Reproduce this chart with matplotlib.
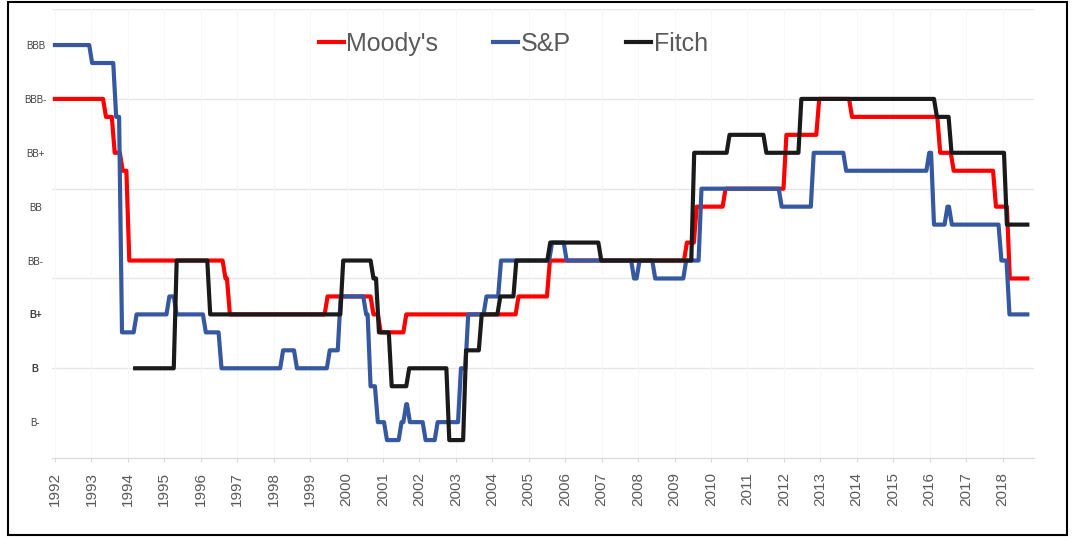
import matplotlib
matplotlib.use("Agg")
import matplotlib.pyplot as plt
from matplotlib.patches import Rectangle

plt.rcParams['font.family'] = ['Liberation Sans', 'DejaVu Sans']

# rating notch scale: 2 = B-, 5 = B, 8 = B+, ... 23 = BBB (one notch = outlook step)
rating_levels = [2, 5, 8, 11, 14, 17, 20, 23]
rating_labels = ['B-', 'B', 'B+', 'BB-', 'BB', 'BB+', 'BBB-', 'BBB']
years = list(range(1992, 2019))
end_date = 2018.68

# change dates and notch levels
moodys_dates = [1992.0, 1993.36, 1993.6, 1993.82, 1994.0, 1996.64, 1996.76, 1999.44,
                2000.7, 2000.9, 2001.6, 2004.68, 2005.54, 2009.3, 2009.57, 2010.36,
                2012.03, 2012.93, 2013.83, 2016.25, 2016.62, 2017.78, 2018.16]
moodys_vals = [20, 19, 17, 16, 11, 10, 8, 9,
               8, 7, 8, 9, 11, 12, 14, 15,
               18, 20, 19, 17, 16, 14, 10]

sp_dates = [1992.0, 1992.98, 1993.64, 1993.8, 1994.2, 1995.1, 1995.3, 1996.1, 1996.53,
            1998.22, 1998.6, 1999.5, 1999.8, 2000.5, 2000.62, 2000.82, 2001.07, 2001.47,
            2001.6, 2001.7, 2002.13, 2002.46, 2003.1, 2003.3, 2003.8, 2004.2, 2005.6,
            2006.0, 2007.85, 2008.0, 2008.43, 2009.28, 2009.7, 2011.9, 2012.78, 2013.67,
            2015.95, 2016.08, 2016.45, 2016.57, 2017.93, 2018.15]
sp_vals = [23, 22, 19, 7, 8, 9, 8, 7, 5,
           6, 5, 6, 9, 8, 4, 2, 1, 2,
           3, 2, 1, 2, 5, 8, 9, 11, 12,
           11, 10, 11, 10, 11, 15, 14, 17, 16,
           17, 13, 14, 13, 11, 8]

fitch_dates = [1994.2, 1995.3, 1996.22, 1999.87, 2000.7, 2000.85, 2001.2, 2001.68,
               2002.78, 2003.24, 2003.67, 2004.18, 2004.62, 2005.55, 2006.95, 2009.5,
               2010.47, 2011.48, 2012.44, 2016.16, 2016.56, 2018.08]
fitch_vals = [5, 11, 8, 11, 10, 7, 4, 5,
              1, 6, 8, 9, 11, 12, 11, 17,
              18, 17, 20, 19, 17, 13]

series = [
    ("Moody's", moodys_dates, moodys_vals, '#ff0000'),
    ('S&P', sp_dates, sp_vals, '#3558a0'),
    ('Fitch', fitch_dates, fitch_vals, '#1a1a1a'),
]


def monthly_path(dates, vals, end, ramp=0.04):
    # rating changes drawn like a monthly line chart: each move takes about a month
    xs, ys = [dates[0]], [vals[0]]
    for i in range(1, len(dates)):
        xs += [dates[i] - ramp, dates[i] + ramp]
        ys += [vals[i - 1], vals[i]]
    xs.append(end)
    ys.append(vals[-1])
    return xs, ys


fig = plt.figure(figsize=(10.75, 5.37), dpi=100)
ax = fig.add_axes([0.0484, 0.147, 0.913, 0.836])

for name, d, v, c in series:
    xs, ys = monthly_path(d, v, end_date)
    ax.plot(xs, ys, color=c, lw=3, label=name)

ax.set_xlim(1991.92, 2018.85)
ax.set_ylim(0, 25)

# gridlines
for g in [5, 10, 15, 20, 25]:
    ax.axhline(g, color='#e6e6e6', lw=1, zorder=0)
for yr in years:
    ax.axvline(yr, color='#f7f7f7', lw=0.8, zorder=0)

for s in ['top', 'right', 'left']:
    ax.spines[s].set_visible(False)
ax.spines['bottom'].set_color('#d9d9d9')

ax.set_xticks(years)
ax.set_xticklabels([str(y) for y in years], rotation=90, fontsize=11, color='#595959')
ax.tick_params(axis='x', length=3, color='#d9d9d9', pad=7)

ax.set_yticks(rating_levels)
ax.set_yticklabels(rating_labels, fontsize=7, color='#404040')
ax.tick_params(axis='y', length=0, pad=12)
for lab in ax.get_yticklabels():
    lab.set_ha('center')
    if lab.get_text() in ('B+', 'B'):
        lab.set_fontweight('bold')

leg = ax.legend(loc='center', bbox_to_anchor=(0.47, 0.922), ncol=3, frameon=False,
                fontsize=18, handlelength=1.0, handletextpad=0.1, columnspacing=2.2)
for t in leg.get_texts():
    t.set_color('#595959')

# outer border
fig.patches.append(Rectangle((0.007, 0.003), 0.986, 0.993, transform=fig.transFigure,
                             fill=False, edgecolor='black', lw=1.5))

fig.savefig('out.png', dpi=100)
